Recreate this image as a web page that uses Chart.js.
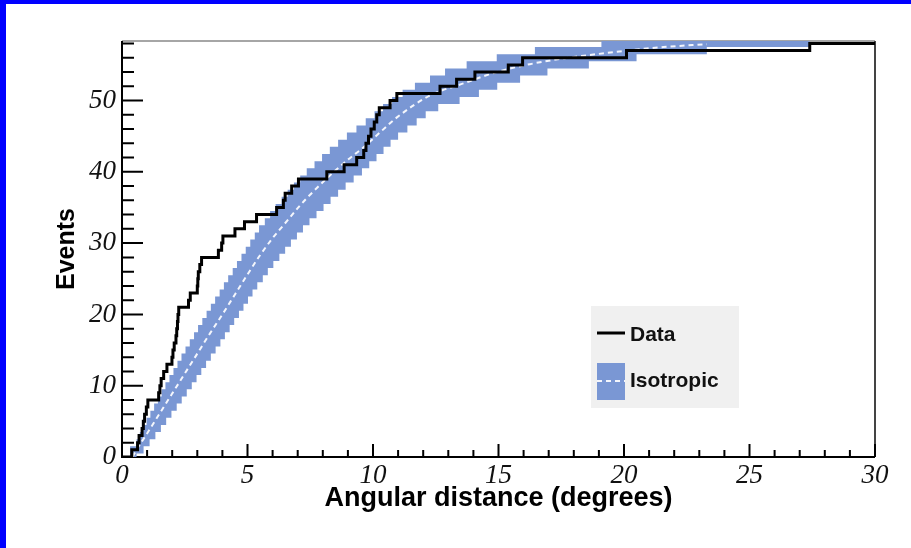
<!DOCTYPE html>
<html>
<head>
<meta charset="utf-8">
<script src="https://cdn.jsdelivr.net/npm/chart.js@4.4.1/dist/chart.umd.min.js"></script>
<style>
  html, body { margin: 0; padding: 0; background: #fff; }
  #contenedor { position: relative; width: 911px; height: 548px; }
</style>
</head>
<body>
<div id="contenedor"><canvas id="grafico" width="911" height="548"></canvas></div>
<script>
// Distribución acumulada de eventos (datos observados)
const datosX = [0, 0.39, 0.62, 0.68, 0.80, 0.85, 0.90, 0.97, 1.03, 1.46, 1.51, 1.56, 1.66, 1.79, 1.99, 2.03, 2.08,
  2.15, 2.18, 2.21, 2.23, 2.26, 2.65, 2.72, 3.00, 3.02, 3.04, 3.10, 3.17, 3.84, 3.97, 4.02, 4.50, 4.88, 5.36,
  6.16, 6.43, 6.50, 6.76, 7.03, 8.16, 8.85, 9.35, 9.63, 9.72, 9.82, 9.92, 10.05, 10.15, 10.25, 10.68, 10.95,
  12.67, 13.33, 14.06, 15.39, 15.96, 20.10, 27.40, 30];
const datosY = [0, 1, 2, 3, 4, 5, 6, 7, 8, 9, 10, 11, 12, 13, 14, 15, 16,
  17, 18, 19, 20, 21, 22, 23, 24, 25, 26, 27, 28, 29, 30, 31, 32, 33, 34,
  35, 36, 37, 38, 39, 40, 41, 42, 43, 44, 45, 46, 47, 48, 49, 50, 51,
  52, 53, 54, 55, 56, 57, 58, 58];

// Expectativa isotrópica (valor medio)
const mediaX = [0.42, 0.58, 1.0, 1.5, 2.0, 2.5, 3.0, 3.5, 4.0, 4.5, 5.0, 5.5, 6.0, 6.43, 7.0, 7.36, 8.29,
  9.0, 9.61, 10.3, 10.94, 12.27, 13.6, 14.93, 16.25, 17.58, 18.9, 20.1, 21.57, 23.3];
const mediaY = [0, 1.0, 3.3, 6.1, 8.9, 11.7, 14.5, 17.3, 20.0, 22.8, 25.6, 28.3, 30.7, 32.5, 34.9, 36.3, 39.5,
  41.7, 43.4, 45.6, 47.6, 50.7, 52.4, 54.0, 55.1, 55.9, 56.5, 57.0, 57.5, 57.9];

// Banda de 1 sigma: borde superior
const bandaSupX = [0.32, 0.58, 0.71, 0.84, 0.98, 1.13, 1.28, 1.43, 1.58, 1.73, 1.89, 2.05, 2.21, 2.37, 2.53, 2.70,
  2.87, 3.03, 3.20, 3.37, 3.54, 3.71, 3.89, 4.06, 4.23, 4.41, 4.58, 4.76, 4.93, 5.11, 5.29, 5.46, 5.69, 5.90,
  6.12, 6.36, 6.60, 6.85, 7.10, 7.36, 7.67, 7.97, 8.28, 8.61, 8.96, 9.34, 9.71, 10.06, 10.40, 10.76, 11.18,
  11.67, 12.27, 12.87, 13.73, 14.93, 16.45, 19.10, 27.40];
const bandaSupY = [1.5, 2.5, 3.5, 4.5, 5.5, 6.5, 7.5, 8.5, 9.5, 10.5, 11.5, 12.5, 13.5, 14.5, 15.5, 16.5,
  17.5, 18.5, 19.5, 20.5, 21.5, 22.5, 23.5, 24.5, 25.5, 26.5, 27.5, 28.5, 29.5, 30.5, 31.5, 32.5, 33.5, 34.5,
  35.5, 36.5, 37.5, 38.5, 39.5, 40.5, 41.5, 42.5, 43.5, 44.5, 45.5, 46.5, 47.5, 48.5, 49.5, 50.5, 51.5,
  52.5, 53.5, 54.5, 55.5, 56.5, 57.5, 58.5, 58.5];

// Banda de 1 sigma: borde inferior
const bandaInfX = [0.32, 0.58, 0.86, 1.10, 1.33, 1.55, 1.76, 1.97, 2.18, 2.38, 2.58, 2.78, 2.97, 3.16, 3.35, 3.54,
  3.73, 3.92, 4.10, 4.29, 4.47, 4.66, 4.84, 5.02, 5.20, 5.39, 5.61, 5.81, 6.03, 6.27, 6.50, 6.73, 6.97, 7.21,
  7.47, 7.75, 8.03, 8.31, 8.61, 8.91, 9.23, 9.56, 9.85, 10.14, 10.42, 10.70, 11.00, 11.37, 11.74, 12.10,
  12.60, 13.45, 14.22, 14.95, 15.86, 16.95, 18.60, 20.50, 23.30, 27.40];
const bandaInfY = [0, 0.5, 1.5, 2.5, 3.5, 4.5, 5.5, 6.5, 7.5, 8.5, 9.5, 10.5, 11.5, 12.5, 13.5, 14.5,
  15.5, 16.5, 17.5, 18.5, 19.5, 20.5, 21.5, 22.5, 23.5, 24.5, 25.5, 26.5, 27.5, 28.5, 29.5, 30.5, 31.5, 32.5,
  33.5, 34.5, 35.5, 36.5, 37.5, 38.5, 39.5, 40.5, 41.5, 42.5, 43.5, 44.5, 45.5, 46.5, 47.5, 48.5,
  49.5, 50.5, 51.5, 52.5, 53.5, 54.5, 55.5, 56.5, 57.5, 57.5];

const ticksX = [0, 5, 10, 15, 20, 25, 30];
const ticksY = [0, 10, 20, 30, 40, 50];

const azulBanda = '#7a97d4';
const colorTexto = '#111';

function puntos(xs, ys) {
  return xs.map((x, i) => ({ x: x, y: ys[i] }));
}

// Los dos bordes de la banda en la misma rejilla de x, para rellenar entre ellos
function valorEn(xs, ys, x) {
  let v = ys[0];
  for (let i = 0; i < xs.length; i++) {
    if (xs[i] <= x) v = ys[i];
  }
  return v;
}
const rejilla = Array.from(new Set(bandaSupX.concat(bandaInfX))).sort((a, b) => a - b);
const bandaSup = rejilla.map(x => ({ x: x, y: valorEn(bandaSupX, bandaSupY, x) }));
const bandaInf = rejilla.map(x => ({ x: x, y: valorEn(bandaInfX, bandaInfY, x) }));

// Marco, marcas de los ejes, franjas azules y leyenda
const marco = {
  id: 'marco',
  beforeDraw(chart) {
    const c = chart.ctx;
    c.save();
    c.fillStyle = '#fff';
    c.fillRect(0, 0, chart.width, chart.height);
    c.fillStyle = '#0000ff';
    c.fillRect(0, 0, chart.width, 4);
    c.fillRect(0, 0, 6, chart.height);
    c.restore();
  },
  beforeDatasetsDraw(chart) {
    const c = chart.ctx;
    const a = chart.chartArea;
    const x = chart.scales.x;
    const y = chart.scales.y;
    c.save();
    c.lineCap = 'butt';
    c.strokeStyle = '#888';
    c.lineWidth = 1.5;
    c.beginPath();
    c.moveTo(a.left, a.top);
    c.lineTo(a.right, a.top);
    c.stroke();
    c.strokeStyle = '#444';
    c.lineWidth = 2;
    c.beginPath();
    c.moveTo(a.right, a.top);
    c.lineTo(a.right, a.bottom);
    c.stroke();

    c.strokeStyle = '#000';
    c.lineWidth = 2;
    c.beginPath();
    c.moveTo(a.left, a.top);
    c.lineTo(a.left, a.bottom);
    c.lineTo(a.right, a.bottom);
    c.stroke();

    c.beginPath();
    for (let v = 0; v <= 30; v++) {
      const px = x.getPixelForValue(v);
      const largo = v % 5 === 0 ? 13 : 7;
      c.moveTo(px, a.bottom);
      c.lineTo(px, a.bottom - largo);
    }
    for (let v = 0; v <= 58; v += 2) {
      const py = y.getPixelForValue(v);
      const largo = v % 10 === 0 ? 21 : 12;
      c.moveTo(a.left, py);
      c.lineTo(a.left + largo, py);
    }
    c.stroke();
    c.restore();
  },
  afterDatasetsDraw(chart) {
    const c = chart.ctx;
    const ds = chart.data.datasets;
    c.save();
    c.fillStyle = '#f0f0f0';
    c.fillRect(591, 306, 148, 102);

    c.strokeStyle = '#000';
    c.lineWidth = 3;
    c.beginPath();
    c.moveTo(597, 333);
    c.lineTo(625, 333);
    c.stroke();

    c.fillStyle = azulBanda;
    c.fillRect(597, 363, 28, 37);
    c.strokeStyle = '#f4f6fc';
    c.lineWidth = 2;
    c.setLineDash([5, 4]);
    c.beginPath();
    c.moveTo(597, 381);
    c.lineTo(625, 381);
    c.stroke();
    c.setLineDash([]);

    c.fillStyle = colorTexto;
    c.font = 'bold 21px "Liberation Sans", Arial, sans-serif';
    c.textAlign = 'left';
    c.textBaseline = 'middle';
    c.fillText(ds[0].label, 630, 335);
    c.fillText(ds[1].label, 630, 381);
    c.restore();
  }
};

const fuenteTicks = { family: '"Liberation Serif", "Times New Roman", serif', style: 'italic', size: 27 };

const ctx = document.getElementById('grafico').getContext('2d');
const grafico = new Chart(ctx, {
  type: 'line',
  data: {
    datasets: [
      {
        label: 'Data',
        data: puntos(datosX, datosY),
        stepped: true,
        borderColor: '#000',
        borderWidth: 3,
        pointRadius: 0,
        fill: false
      },
      {
        label: 'Isotropic',
        data: puntos(mediaX, mediaY),
        borderColor: '#f4f6fc',
        borderWidth: 2,
        borderDash: [5, 4],
        cubicInterpolationMode: 'monotone',
        pointRadius: 0,
        fill: false
      },
      {
        label: 'banda sup',
        data: bandaSup,
        stepped: true,
        borderWidth: 0,
        borderColor: 'rgba(0,0,0,0)',
        backgroundColor: azulBanda,
        pointRadius: 0,
        fill: '+1'
      },
      {
        label: 'banda inf',
        data: bandaInf,
        stepped: true,
        borderWidth: 0,
        borderColor: 'rgba(0,0,0,0)',
        pointRadius: 0,
        fill: false
      }
    ]
  },
  options: {
    responsive: false,
    animation: false,
    layout: { padding: { left: 0, top: 41, right: 36, bottom: 0 } },
    plugins: {
      legend: { display: false },
      tooltip: { enabled: false }
    },
    scales: {
      x: {
        type: 'linear',
        min: 0,
        max: 30,
        afterFit: s => { s.height = 91; },
        afterBuildTicks: s => { s.ticks = ticksX.map(v => ({ value: v })); },
        grid: { display: false, drawTicks: false },
        border: { display: false },
        ticks: { padding: 3, color: colorTexto, font: fuenteTicks, maxRotation: 0, autoSkip: false },
        title: {
          display: true,
          text: 'Angular distance (degrees)',
          color: '#000',
          font: { family: '"Liberation Sans", Arial, sans-serif', weight: 'bold', size: 27 },
          padding: { top: 0, bottom: 33 }
        }
      },
      y: {
        type: 'linear',
        min: 0,
        max: 58.35,
        afterFit: s => { s.width = 122; },
        afterBuildTicks: s => { s.ticks = ticksY.map(v => ({ value: v })); },
        grid: { display: false, drawTicks: false },
        border: { display: false },
        ticks: { padding: 6, color: colorTexto, font: fuenteTicks, autoSkip: false },
        title: {
          display: true,
          text: 'Events',
          color: '#000',
          font: { family: '"Liberation Sans", Arial, sans-serif', weight: 'bold', size: 25 },
          padding: { top: 52, bottom: 0 }
        }
      }
    }
  },
  plugins: [marco]
});
</script>
</body>
</html>
